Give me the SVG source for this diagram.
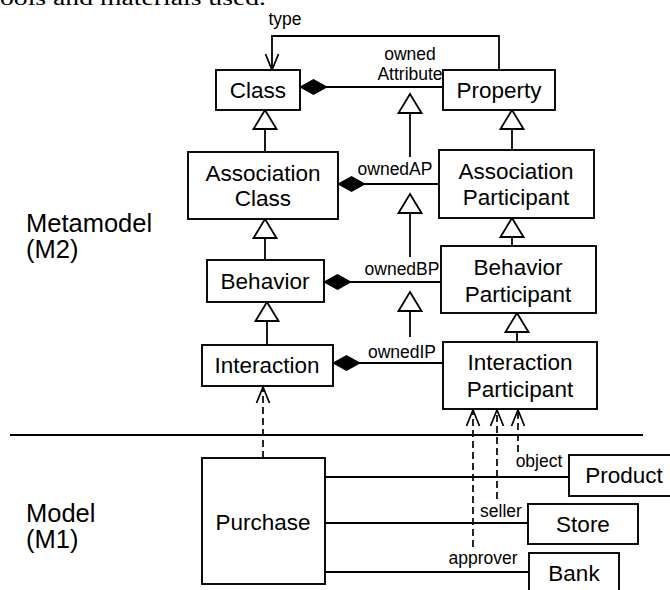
<svg xmlns="http://www.w3.org/2000/svg" width="670" height="590" viewBox="0 0 670 590">
  <style>
    .box { fill: #fff; stroke: #000; stroke-width: 1.9; }
    .edge { fill: none; stroke: #000; stroke-width: 1.8; }
    .dash { fill: none; stroke: #000; stroke-width: 1.7; stroke-dasharray: 7 4; }
    .name { font-family: "Liberation Sans", Arial, sans-serif; font-size: 22.5px; text-anchor: middle; fill: #000; }
    .role { font-family: "Liberation Sans", Arial, sans-serif; font-size: 17.5px; text-anchor: middle; fill: #000; }
    .level { font-family: "Liberation Sans", Arial, sans-serif; font-size: 25.5px; fill: #000; }
    .body { font-family: "Liberation Serif", "Times New Roman", serif; font-size: 20px; fill: #000; }
    .mk-hollow { fill: #fff; stroke: #000; stroke-width: 1.8; stroke-linejoin: miter; }
    .mk-solid { fill: #000; stroke: #000; stroke-width: 1; }
    .mk-open { fill: none; stroke: #000; stroke-width: 1.7; }
  </style>
  <defs>
    <!-- generalization: hollow triangle, tip at the line end -->
    <marker id="gen" markerUnits="userSpaceOnUse" viewBox="-21 -13 23 26" refX="0" refY="0" markerWidth="23" markerHeight="26" orient="auto">
      <path class="mk-hollow" d="M0,0 L-19,-11.5 L-19,11.5 Z"/>
    </marker>
    <!-- composition: filled diamond at the whole end (line start) -->
    <marker id="comp" markerUnits="userSpaceOnUse" viewBox="-1 -9 30 18" refX="0" refY="0" markerWidth="30" markerHeight="18" orient="auto">
      <path class="mk-solid" d="M0,0 L13.5,-7.5 L27,0 L13.5,7.5 Z"/>
    </marker>
    <!-- navigable / dependency: open arrowhead -->
    <marker id="open" markerUnits="userSpaceOnUse" viewBox="-19 -8 21 16" refX="0" refY="0" markerWidth="21" markerHeight="16" orient="auto">
      <path class="mk-open" d="M-16,-6.5 L0,0 L-16,6.5"/>
    </marker>
  </defs>

  <rect width="670" height="590" fill="#fff"/>

  <!-- running text of the page above the figure -->
  <text class="body" x="0" y="5" textLength="266" lengthAdjust="spacingAndGlyphs">ools and materials used.</text>

  <!-- level labels -->
  <text class="level" x="26" y="232">Metamodel</text>
  <text class="level" x="26" y="258">(M2)</text>
  <text class="level" x="26" y="522">Model</text>
  <text class="level" x="26" y="548">(M1)</text>

  <g id="connectors">
    <!-- type reference -->
    <polyline class="edge" points="499,70 499,36 272,36 272,70" marker-end="url(#open)"/>
    <!-- compositions -->
    <line class="edge" x1="300" y1="87" x2="443" y2="87" marker-start="url(#comp)"/>
    <line class="edge" x1="338" y1="184" x2="439" y2="184" marker-start="url(#comp)"/>
    <line class="edge" x1="324" y1="282" x2="441" y2="282" marker-start="url(#comp)"/>
    <line class="edge" x1="333" y1="363" x2="443" y2="363" marker-start="url(#comp)"/>
    <!-- generalizations, left column -->
    <line class="edge" x1="265" y1="152" x2="265" y2="110" marker-end="url(#gen)"/>
    <line class="edge" x1="265" y1="260" x2="265" y2="219" marker-end="url(#gen)"/>
    <line class="edge" x1="267" y1="345" x2="267" y2="302" marker-end="url(#gen)"/>
    <!-- generalizations, right column -->
    <line class="edge" x1="512" y1="150" x2="512" y2="110" marker-end="url(#gen)"/>
    <line class="edge" x1="512" y1="246" x2="512" y2="218" marker-end="url(#gen)"/>
    <line class="edge" x1="517" y1="342" x2="517" y2="313" marker-end="url(#gen)"/>
    <!-- generalizations between associations -->
    <line class="edge" x1="410" y1="157" x2="410" y2="94" marker-end="url(#gen)"/>
    <line class="edge" x1="410" y1="257" x2="410" y2="194" marker-end="url(#gen)"/>
    <line class="edge" x1="410" y1="337" x2="410" y2="292" marker-end="url(#gen)"/>

    <!-- level separator -->
    <line class="edge" x1="10" y1="435" x2="643" y2="435"/>

    <!-- model-level associations -->
    <line class="edge" x1="325" y1="477" x2="569" y2="477"/>
    <line class="edge" x1="325" y1="523" x2="528" y2="523"/>
    <line class="edge" x1="325" y1="572" x2="529" y2="572"/>

    <!-- instance-of dependencies -->
    <line class="dash" x1="263" y1="458" x2="263" y2="387" marker-end="url(#open)"/>
    <line class="dash" x1="473" y1="547" x2="473" y2="410" marker-end="url(#open)"/>
    <line class="dash" x1="497" y1="499" x2="497" y2="410" marker-end="url(#open)"/>
    <line class="dash" x1="518" y1="452" x2="518" y2="410" marker-end="url(#open)"/>

    <!-- role labels -->
    <text class="role" x="285" y="25">type</text>
    <text class="role" x="410" y="60">owned</text>
    <text class="role" x="410" y="80">Attribute</text>
    <text class="role" x="395" y="175">ownedAP</text>
    <text class="role" x="402" y="275">ownedBP</text>
    <text class="role" x="402" y="358">ownedIP</text>
    <text class="role" x="539" y="467">object</text>
    <text class="role" x="501" y="517">seller</text>
    <text class="role" x="483" y="564">approver</text>
  </g>

  <g id="class">
    <rect class="box" x="216" y="70" width="84" height="40"/>
    <text class="name" x="258" y="98">Class</text>
  </g>
  <g id="property">
    <rect class="box" x="443" y="70" width="112" height="40"/>
    <text class="name" x="499" y="98">Property</text>
  </g>
  <g id="association-class">
    <rect class="box" x="188" y="152" width="150" height="67"/>
    <text class="name" x="263" y="181">Association</text>
    <text class="name" x="263" y="206">Class</text>
  </g>
  <g id="association-participant">
    <rect class="box" x="439" y="150" width="155" height="68"/>
    <text class="name" x="516" y="179">Association</text>
    <text class="name" x="516" y="205">Participant</text>
  </g>
  <g id="behavior">
    <rect class="box" x="207" y="260" width="117" height="42"/>
    <text class="name" x="265" y="289">Behavior</text>
  </g>
  <g id="behavior-participant">
    <rect class="box" x="441" y="246" width="155" height="67"/>
    <text class="name" x="518" y="275">Behavior</text>
    <text class="name" x="518" y="302">Participant</text>
  </g>
  <g id="interaction">
    <rect class="box" x="202" y="345" width="131" height="41"/>
    <text class="name" x="267" y="373">Interaction</text>
  </g>
  <g id="interaction-participant">
    <rect class="box" x="443" y="342" width="154" height="67"/>
    <text class="name" x="520" y="370">Interaction</text>
    <text class="name" x="520" y="397">Participant</text>
  </g>
  <g id="purchase">
    <rect class="box" x="202" y="458" width="123" height="126"/>
    <text class="name" x="263" y="530">Purchase</text>
  </g>
  <g id="product">
    <rect class="box" x="569" y="455" width="115" height="41"/>
    <text class="name" x="624" y="483">Product</text>
  </g>
  <g id="store">
    <rect class="box" x="528" y="504" width="110" height="40"/>
    <text class="name" x="583" y="532">Store</text>
  </g>
  <g id="bank">
    <rect class="box" x="529" y="553" width="90" height="50"/>
    <text class="name" x="574" y="581">Bank</text>
  </g>
</svg>
